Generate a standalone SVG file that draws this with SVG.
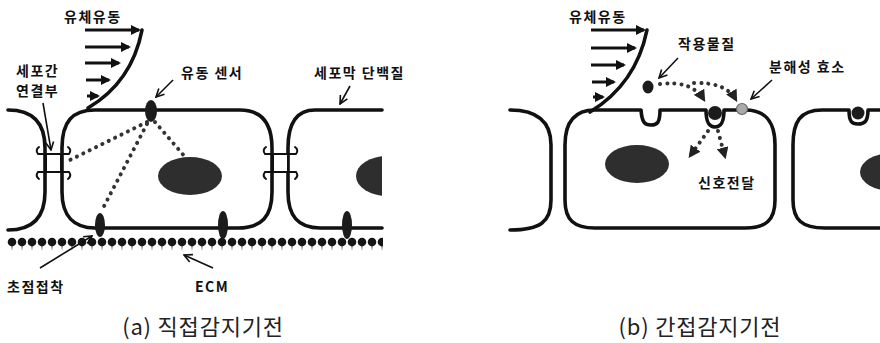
<svg xmlns="http://www.w3.org/2000/svg" width="880" height="343" viewBox="0 0 880 343">
  <style>
    .mem { fill: none; stroke: #111; stroke-width: 3.6; stroke-linecap: round; stroke-linejoin: round; }
    .flow { stroke: #111; stroke-width: 3; fill: none; marker-end: url(#fh); }
    .lbl { font-family: "Noto Sans CJK KR", "Liberation Sans", sans-serif; font-size: 14px; font-weight: 700; letter-spacing: 1.5px; fill: #111; }
    .cap { font-family: "Noto Sans CJK KR", "Liberation Sans", sans-serif; font-size: 22px; font-weight: 400; letter-spacing: 0.8px; fill: #222; }
    .ptr { stroke: #111; stroke-width: 1.6; fill: none; marker-end: url(#vh); }
    .dots { stroke: #333; stroke-width: 4; fill: none; stroke-dasharray: 0.1 7; stroke-linecap: round; }
    .nuc { fill: #2e2e2e; }
    .blob { fill: #1c1c1c; }
    .jn { fill: none; stroke: #111; stroke-width: 2; stroke-linecap: round; }
  </style>
  <defs>
    <marker id="fh" viewBox="0 0 10 10" refX="8" refY="5" markerUnits="userSpaceOnUse" markerWidth="11" markerHeight="10" orient="auto">
      <path d="M0,0 L10,5 L0,10 Z" fill="#111"/>
    </marker>
    <marker id="vh" viewBox="0 0 10 10" refX="9" refY="5" markerUnits="userSpaceOnUse" markerWidth="10" markerHeight="10" orient="auto">
      <path d="M1,1 L9,5 L1,9" fill="none" stroke="#111" stroke-width="1.6"/>
    </marker>
    <marker id="th" viewBox="0 0 10 10" refX="8" refY="5" markerUnits="userSpaceOnUse" markerWidth="12" markerHeight="12" orient="auto">
      <path d="M0,0 L10,5 L0,10 Z" fill="#222"/>
    </marker>
    <pattern id="ecm" x="7" y="236" width="10" height="20" patternUnits="userSpaceOnUse">
      <path d="M3.5,7 L5,15 L6.5,7 Z" fill="#888"/>
      <circle cx="5" cy="6" r="4.3" fill="#151515"/>
    </pattern>
    <clipPath id="clipA">
      <rect x="0" y="0" width="382" height="343"/>
    </clipPath>
  </defs>

  <rect width="880" height="343" fill="#fff"/>

  <!-- ===================== (a) direct sensing ===================== -->
  <g id="a-flow">
    <path class="mem" d="M142,30 Q132,82 88,108" stroke-width="3"/>
    <line class="flow" x1="85" y1="30" x2="139" y2="30"/>
    <line class="flow" x1="85" y1="47" x2="129" y2="47"/>
    <line class="flow" x1="85" y1="63" x2="119" y2="63"/>
    <line class="flow" x1="86" y1="80" x2="109" y2="80"/>
    <line class="flow" x1="87" y1="96" x2="98" y2="96"/>
    <text class="lbl" x="64" y="22">유체유동</text>
  </g>

  <g id="a-cell-left">
    <path class="mem" d="M8,110 C30,110 45,120 45,148 L45,192 C45,218 32,230 8,230"/>
  </g>

  <g id="a-cell-mid">
    <path class="mem" d="M62,148 C62,122 72,110 95,110 L240,110 C262,110 272,124 272,148 L272,192 C272,216 262,228 238,228 L95,228 C74,228 62,216 62,192 Z"/>
    <ellipse class="nuc" cx="190" cy="176" rx="32" ry="19"/>
  </g>

  <g id="a-cell-right">
    <path class="mem" d="M382,110 L315,110 C296,110 288,124 288,148 L288,192 C288,216 298,228 320,228 L382,228"/>
    <ellipse class="nuc" cx="388" cy="176" rx="32" ry="20" clip-path="url(#clipA)"/>
  </g>

  <g id="a-ecm">
    <rect x="7" y="236" width="376" height="20" fill="url(#ecm)"/>
  </g>

  <g id="a-junction-left">
    <rect x="46" y="154" width="15" height="18" fill="#fff" stroke="#111" stroke-width="2"/>
    <path class="jn" d="M38,154 L69,154 M38,172 L69,172 M38,154 q-3,-4 1,-7 M69,154 q3,-4 -1,-7 M38,172 q-3,4 1,7 M69,172 q3,4 -1,7"/>
  </g>

  <g id="a-junction-right">
    <rect x="273" y="154" width="15" height="18" fill="#fff" stroke="#111" stroke-width="2"/>
    <path class="jn" d="M265,154 L296,154 M265,172 L296,172 M265,154 q-3,-4 1,-7 M296,154 q3,-4 -1,-7 M265,172 q-3,4 1,7 M296,172 q3,4 -1,7"/>
  </g>

  <g id="a-sensor">
    <ellipse class="blob" cx="151" cy="111" rx="6" ry="11"/>
  </g>

  <g id="a-focal">
    <ellipse class="blob" cx="100" cy="225" rx="5" ry="12"/>
  </g>

  <g id="a-integrins">
    <ellipse class="blob" cx="223" cy="225" rx="5" ry="14"/>
    <ellipse class="blob" cx="347" cy="225" rx="5" ry="14"/>
  </g>

  <g id="a-connectors">
    <path class="dots" d="M147,122 L70,160"/>
    <path class="dots" d="M147,124 L101,212"/>
    <path class="dots" d="M155,122 L186,158"/>
    <line class="ptr" x1="43" y1="103" x2="51" y2="150"/>
    <line class="ptr" x1="173" y1="80" x2="156" y2="97"/>
    <line class="ptr" x1="350" y1="86" x2="340" y2="104"/>
    <line class="ptr" x1="40" y1="268" x2="92" y2="236"/>
    <line class="ptr" x1="213" y1="268" x2="184" y2="255"/>
  </g>

  <g id="a-labels">
    <text class="lbl" x="16" y="76">세포간</text>
    <text class="lbl" x="16" y="96">연결부</text>
    <text class="lbl" x="181" y="78">유동 센서</text>
    <text class="lbl" x="314" y="78">세포막 단백질</text>
    <text class="lbl" x="7" y="292">초점접착</text>
    <text class="lbl" x="195" y="292">ECM</text>
    <text class="cap" x="203" y="335" text-anchor="middle">(a) 직접감지기전</text>
  </g>

  <!-- ===================== (b) indirect sensing ===================== -->
  <g id="b-flow">
    <path class="mem" d="M647,30 Q636,84 590,112" stroke-width="3"/>
    <line class="flow" x1="591" y1="30" x2="644" y2="30"/>
    <line class="flow" x1="591" y1="48" x2="635" y2="48"/>
    <line class="flow" x1="591" y1="65" x2="624" y2="65"/>
    <line class="flow" x1="592" y1="82" x2="614" y2="82"/>
    <line class="flow" x1="593" y1="97" x2="603" y2="97"/>
    <text class="lbl" x="569" y="22">유체유동</text>
  </g>

  <g id="b-cell-left">
    <path class="mem" d="M510,110 C535,110 551,120 551,145 L551,200 C551,222 540,230 510,230"/>
  </g>

  <g id="b-cell-mid">
    <path class="mem" d="M565,145 C565,122 575,110 595,110 L641,110 C642,123 645,125 651,125 C657,125 660,123 660,110 L706,110 C706,124 710,127 715,127 C720,127 724,124 724,110 L745,110 C766,110 775,122 775,145 L775,200 C775,220 766,228 745,228 L595,228 C574,228 565,220 565,200 Z"/>
    <ellipse class="nuc" cx="637" cy="164" rx="32" ry="19"/>
    <circle class="blob" cx="715" cy="113" r="7"/>
    <circle cx="742" cy="109" r="5.5" fill="#aaa" stroke="#666" stroke-width="1.2"/>
  </g>

  <g id="b-cell-right">
    <path class="mem" d="M880,110 L868,110 C868,122 864,124 858,124 C852,124 849,122 849,110 L822,110 C800,110 793,122 793,145 L793,200 C793,220 802,228 825,228 L880,228"/>
    <circle class="blob" cx="858" cy="113" r="6.5"/>
    <ellipse class="nuc" cx="892" cy="172" rx="32" ry="19"/>
  </g>

  <g id="b-agent">
    <ellipse class="blob" cx="648" cy="87" rx="5.5" ry="6.5"/>
  </g>

  <g id="b-connectors">
    <path class="dots" d="M660,84 Q692,80 704,100" marker-end="url(#th)"/>
    <path class="dots" d="M694,83 Q726,82 736,100" marker-end="url(#th)"/>
    <path class="dots" d="M708,131 L690,156" marker-end="url(#th)"/>
    <path class="dots" d="M718,131 L725,157" marker-end="url(#th)"/>
    <line class="ptr" x1="678" y1="58" x2="659" y2="78"/>
    <line class="ptr" x1="772" y1="80" x2="751" y2="99"/>
  </g>

  <g id="b-labels">
    <text class="lbl" x="678" y="49">작용물질</text>
    <text class="lbl" x="769" y="72">분해성 효소</text>
    <text class="lbl" x="698" y="188">신호전달</text>
    <text class="cap" x="700" y="335" text-anchor="middle">(b) 간접감지기전</text>
  </g>
</svg>
